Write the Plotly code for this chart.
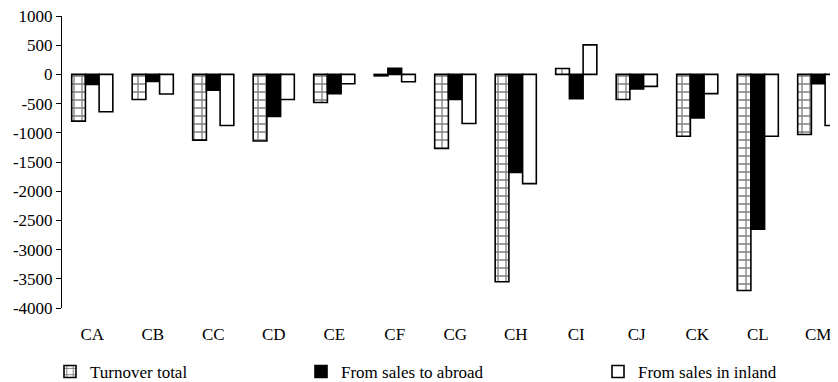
import plotly.graph_objects as go

categories = ["CA", "CB", "CC", "CD", "CE", "CF", "CG", "CH", "CI", "CJ", "CK", "CL", "CM"]
turnover_total = [-800, -430, -1125, -1140, -480, -25, -1270, -3550, 100, -430, -1060, -3700, -1030]
sales_abroad = [-170, -120, -270, -720, -330, 105, -430, -1680, -415, -250, -745, -2650, -160]
sales_inland = [-640, -335, -875, -430, -160, -125, -840, -1870, 505, -205, -330, -1060, -875]
y_ticks = [1000, 500, 0, -500, -1000, -1500, -2000, -2500, -3000, -3500, -4000]
y_tick_labels = [str(v) for v in y_ticks]

FONT = "Liberation Serif, Times New Roman, serif"
FS = 17
# page body has an 8px margin; the figure is sized to fill the rest of the window
W, H = 830, 374
ML, MT, MB, MR = 54, 8, 74, 0
plot_w = W - ML - MR
plot_h = H - MT - MB
cat_px = 60.5
x_end = -0.5 + plot_w / cat_px

fig = go.Figure()
fig.add_trace(go.Bar(
    x=categories, y=turnover_total, name="Turnover total",
    marker=dict(color="white", line=dict(color="black", width=1.6),
                pattern=dict(shape="+", fgcolor="black", bgcolor="white", size=8, solidity=0.3)),
    legend="legend",
))
fig.add_trace(go.Bar(
    x=categories, y=sales_abroad, name="From sales to abroad",
    marker=dict(color="black", line=dict(color="black", width=1.6)),
    legend="legend2",
))
fig.add_trace(go.Bar(
    x=categories, y=sales_inland, name="From sales in inland",
    marker=dict(color="white", line=dict(color="black", width=1.6)),
    legend="legend3",
))

leg_y = 1 - 364 / H
legend_common = dict(orientation="h", yref="container", xref="container",
                     yanchor="middle", y=leg_y, xanchor="left",
                     font=dict(family=FONT, size=FS, color="black"),
                     bgcolor="rgba(0,0,0,0)", borderwidth=0)

zero_pos = (0 - (-4000)) / (1000 - (-4000))

fig.update_layout(
    width=W, height=H,
    margin=dict(l=ML, r=MR, t=MT, b=MB, pad=0, autoexpand=False),
    paper_bgcolor="white", plot_bgcolor="white",
    font=dict(family=FONT, size=FS, color="black"),
    barmode="group", bargap=0.32, bargroupgap=0,
    xaxis=dict(type="category", range=[-0.5, x_end], showline=False, ticks="",
               showgrid=False, zeroline=False, ticklabelstandoff=14, automargin=False,
               ticklabeloverflow="allow",
               tickfont=dict(family=FONT, size=FS, color="black")),
    xaxis2=dict(overlaying="x", anchor="free", position=zero_pos, range=[-0.5, x_end],
                showline=True, linecolor="#404040", linewidth=1,
                ticks="outside", ticklen=5, tickcolor="#404040", tickwidth=1,
                tickmode="array", tickvals=[i + 0.5 for i in range(len(categories))],
                showticklabels=False, showgrid=False, zeroline=False, automargin=False),
    yaxis=dict(range=[-4000, 1000], tickmode="array", tickvals=y_ticks, ticktext=y_tick_labels,
               showline=True, linecolor="black", linewidth=1,
               ticks="outside", ticklen=5, tickcolor="black",
               showgrid=False, zeroline=False, automargin=False,
               ticklabeloverflow="allow",
               tickfont=dict(family=FONT, size=FS, color="black")),
    showlegend=True,
    legend=dict(x=42 / W, **legend_common),
    legend2=dict(x=293 / W, **legend_common),
    legend3=dict(x=590 / W, **legend_common),
)

fig.write_html("out.html")
